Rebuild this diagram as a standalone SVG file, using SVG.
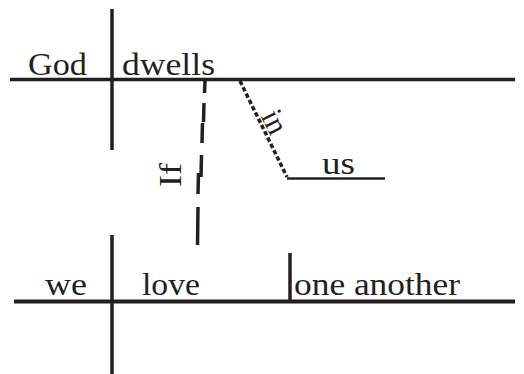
<svg xmlns="http://www.w3.org/2000/svg" width="524" height="374" viewBox="0 0 524 374">
<style>
.ln{stroke:#231f20;fill:none;stroke-width:3.5}
.th{stroke-width:2.5}
.tx{font-family:"Liberation Serif","DejaVu Serif",serif;font-size:31px;fill:#231f20}
</style>
<rect width="524" height="374" fill="#fff"/>
<g id="connectors">
<path id="if-link" class="ln" d="M205,81 L204.5,93 M204,103 L203.5,122 M202.5,123 L202,143 M201.5,155 L201,177 M198.5,173 L198,194 M198,207 L197.5,245"/>
<line id="in-link" class="ln" x1="240" y1="81" x2="287" y2="177" stroke-dasharray="4.5 2.5"/>
</g>
<g id="main-clause">
<line class="ln" x1="10" y1="79.5" x2="515" y2="79.5"/>
<line class="ln" x1="112" y1="9" x2="112" y2="150"/>
<text class="tx" x="28" y="75" textLength="59" lengthAdjust="spacingAndGlyphs">God</text>
<text class="tx" x="122" y="75" textLength="93" lengthAdjust="spacingAndGlyphs">dwells</text>
</g>
<g id="in-us">
<line class="ln th" x1="287" y1="178.5" x2="385" y2="178.5"/>
<text class="tx" x="322" y="174" textLength="33" lengthAdjust="spacingAndGlyphs">us</text>
<text class="tx" transform="translate(260.5,116) rotate(63.7)" textLength="23" lengthAdjust="spacingAndGlyphs">in</text>
</g>
<g id="if-label">
<text class="tx" transform="translate(181,187) rotate(-90)" textLength="24" lengthAdjust="spacingAndGlyphs">If</text>
</g>
<g id="sub-clause">
<line class="ln" x1="14" y1="301.5" x2="515" y2="301.5" style="stroke-width:4"/>
<line class="ln" x1="112" y1="235" x2="112" y2="374"/>
<line class="ln" x1="290" y1="253" x2="290" y2="301"/>
<text class="tx" x="45" y="295" textLength="42" lengthAdjust="spacingAndGlyphs">we</text>
<text class="tx" x="142" y="295" textLength="58" lengthAdjust="spacingAndGlyphs">love</text>
<text class="tx" x="294" y="295" textLength="166" lengthAdjust="spacingAndGlyphs">one another</text>
</g>
</svg>
